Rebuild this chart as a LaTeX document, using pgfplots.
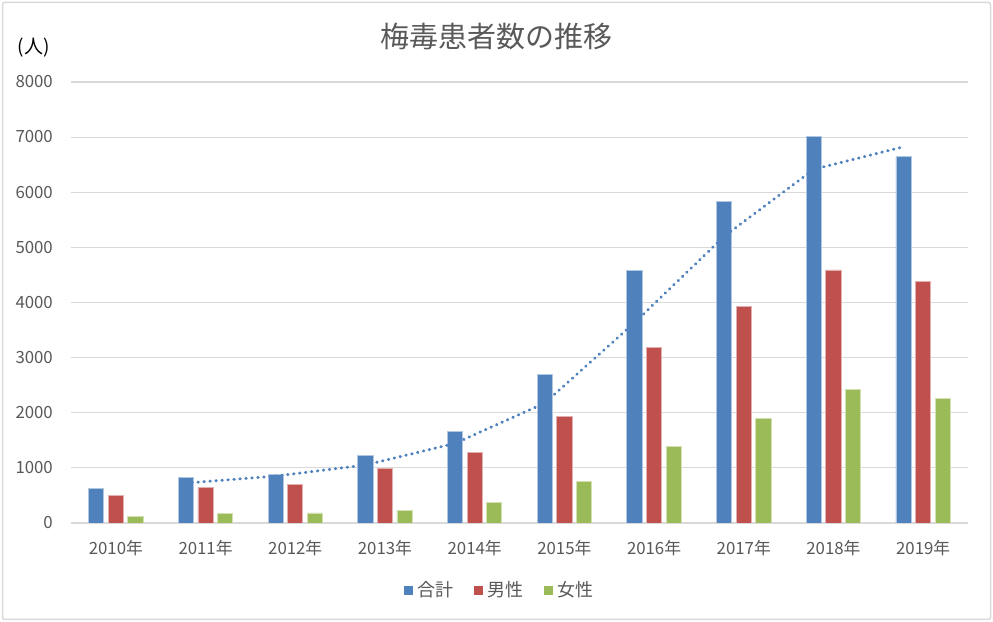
\documentclass[border=0pt]{standalone}
\usepackage{pgfplots}
\pgfplotsset{compat=1.18}
\usepackage{fontspec}
\setmainfont{Noto Sans CJK JP}
\definecolor{cblue}{HTML}{4F81BD}
\definecolor{cred}{HTML}{C0504D}
\definecolor{cgreen}{HTML}{9BBB59}
\definecolor{txt}{HTML}{595959}
\definecolor{gridc}{HTML}{D9D9D9}
\begin{document}
\begin{tikzpicture}
\useasboundingbox (0,0) rectangle (993bp,622bp);
\fill[white] (0,0) rectangle (993bp,622bp);
\draw[gridc, line width=1.5bp, rounded corners=2bp] (2.5bp,2.5bp) rectangle (990.5bp,619.5bp);
\node[text=txt, font=\fontsize{29bp}{33bp}\selectfont] at (496bp,586bp) {梅毒患者数の推移};
\node[text=black, font=\fontsize{19bp}{21bp}\selectfont] at (33.5bp,574bp) {(人)};
\begin{axis}[
  at={(71bp,99bp)}, anchor=south west, scale only axis,
  width=897bp, height=441bp,
  xmin=-0.5, xmax=9.5, ymin=0, ymax=8000,
  ybar=4.4bp, bar width=15.2bp,
  xtick={0,...,9},
  xticklabels={2010年,2011年,2012年,2013年,2014年,2015年,2016年,2017年,2018年,2019年},
  ytick={0,1000,...,8000},
  scaled y ticks=false,
  /pgf/number format/1000 sep={},
  /pgf/number format/assume math mode=true,
  ymajorgrids, grid style={gridc, line width=1.2bp},
  axis line style={draw=none},
  major tick length=0pt,
  ticklabel style={font=\fontsize{16.8bp}{19bp}\selectfont, text=txt},
  xticklabel style={anchor=base, inner sep=0pt, yshift=-32bp},
  yticklabel style={anchor=base east, inner sep=0pt, xshift=-18bp, yshift=-5.8bp},
  legend columns=3,
  legend style={at={(0.478,-0.152)}, anchor=center, draw=none, fill=none,
    font=\fontsize{18bp}{21bp}\selectfont, text=txt,
    /tikz/every odd column/.append style={column sep=3bp},
    /tikz/every even column/.append style={column sep=18bp}},
  legend image code/.code={\fill[#1, draw=none] (0bp,-4.5bp) rectangle (9bp,4.5bp);},
]
\addplot[fill=cblue, draw=cblue!45!white, line width=0.75bp] coordinates {
  (0,621) (1,827) (2,875) (3,1228) (4,1661) (5,2690) (6,4575) (7,5826) (8,7007) (9,6642)};
\addplot[fill=cred, draw=cred!45!white, line width=0.75bp] coordinates {
  (0,497) (1,650) (2,692) (3,993) (4,1284) (5,1930) (6,3189) (7,3931) (8,4591) (9,4387)};
\addplot[fill=cgreen, draw=cgreen!45!white, line width=0.75bp] coordinates {
  (0,124) (1,177) (2,183) (3,235) (4,377) (5,760) (6,1386) (7,1895) (8,2416) (9,2255)};
\addplot[sharp plot, forget plot, draw=cblue, line width=3bp, line cap=round,
  dash pattern=on 0.5bp off 5.5bp] coordinates {
  (0.7815,724) (1.7815,851) (2.7815,1051.5) (3.7815,1444.5) (4.7815,2175.5)
  (5.7815,3632.5) (6.7815,5200.5) (7.7815,6416.5) (8.7815,6824.5)};
\legend{合計,男性,女性}
\end{axis}
\end{tikzpicture}
\end{document}
